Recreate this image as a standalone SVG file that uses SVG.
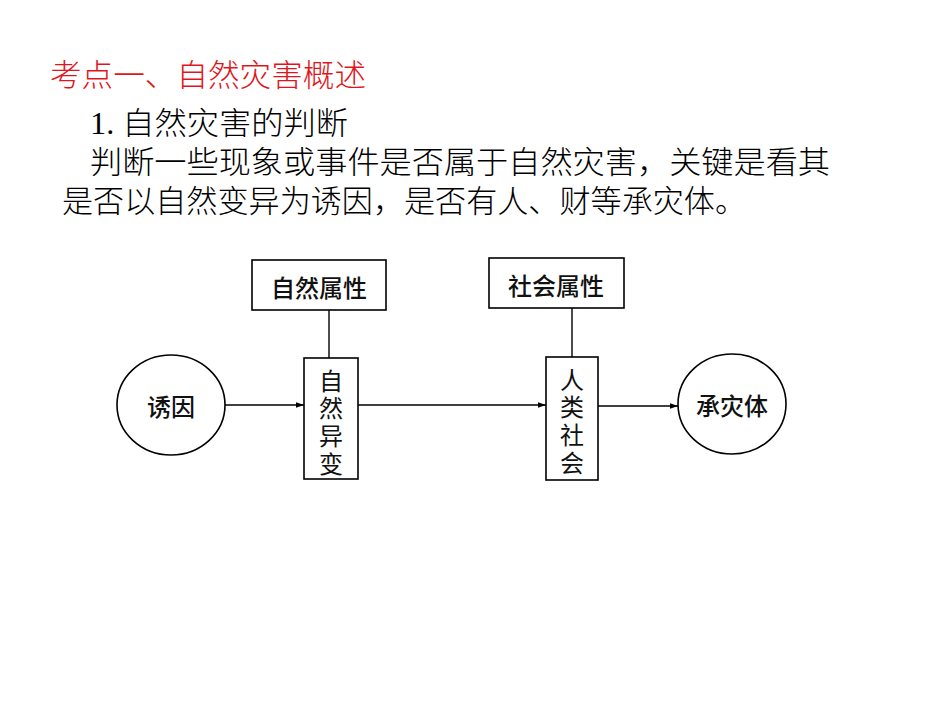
<svg xmlns="http://www.w3.org/2000/svg" width="950" height="713" viewBox="0 0 950 713">
<style>
.t{font-family:"Liberation Serif","Noto Sans CJK SC",serif;font-size:31px;font-weight:300;fill:#000}
.box{fill:#fff;stroke:#000;stroke-width:1.6}
.lbl{font-family:"Noto Sans CJK SC",sans-serif;font-size:24px;font-weight:500;fill:#111;text-anchor:middle;dominant-baseline:central}
.vl{font-family:"Noto Sans CJK SC",sans-serif;font-size:24px;font-weight:400;fill:#111;text-anchor:middle;writing-mode:vertical-rl;text-orientation:upright;letter-spacing:3.7px}
.ln{stroke:#000;stroke-width:1.4;fill:none}
</style>
<defs>
<marker id="ah" viewBox="0 0 10 10" refX="10" refY="5" markerWidth="10" markerHeight="8" markerUnits="userSpaceOnUse" orient="auto">
<path d="M0,1.5 L10,5 L0,8.5 Z" fill="#000"/>
</marker>
</defs>
<rect width="950" height="713" fill="#fff"/>
<text class="t" x="50" y="86" textLength="316" lengthAdjust="spacingAndGlyphs" style="fill:#e0161c">考点一、自然灾害概述</text>
<text class="t" x="90" y="134" textLength="258" lengthAdjust="spacingAndGlyphs">1. 自然灾害的判断</text>
<text class="t" x="90" y="173" textLength="740" lengthAdjust="spacingAndGlyphs">判断一些现象或事件是否属于自然灾害，关键是看其</text>
<text class="t" x="62" y="212" textLength="684" lengthAdjust="spacingAndGlyphs">是否以自然变异为诱因，是否有人、财等承灾体。</text>
<g id="connectors">
<line class="ln" x1="329" y1="310" x2="329" y2="358"/>
<line class="ln" x1="572" y1="308" x2="572" y2="357"/>
<line class="ln" x1="225" y1="405" x2="304" y2="405" marker-end="url(#ah)"/>
<line class="ln" x1="358" y1="405" x2="546" y2="405" marker-end="url(#ah)"/>
<line class="ln" x1="598" y1="406" x2="678" y2="406" marker-end="url(#ah)"/>
</g>
<g id="ziranshuxing">
<rect class="box" x="252" y="260" width="134" height="50"/>
<text class="lbl" x="319" y="286">自然属性</text>
</g>
<g id="shehuishuxing">
<rect class="box" x="489" y="258" width="135" height="50"/>
<text class="lbl" x="556" y="284">社会属性</text>
</g>
<g id="youyin">
<ellipse class="box" cx="171" cy="405" rx="54" ry="50"/>
<text class="lbl" x="171" y="405">诱因</text>
</g>
<g id="ziranyibian">
<rect class="box" x="304" y="358" width="54" height="121"/>
<text class="vl" x="331" y="424">自然异变</text>
</g>
<g id="renleishehui">
<rect class="box" x="546" y="357" width="52" height="123"/>
<text class="vl" x="572" y="423">人类社会</text>
</g>
<g id="chengzaiti">
<ellipse class="box" cx="732" cy="404" rx="54" ry="50"/>
<text class="lbl" x="732" y="404">承灾体</text>
</g>
</svg>
